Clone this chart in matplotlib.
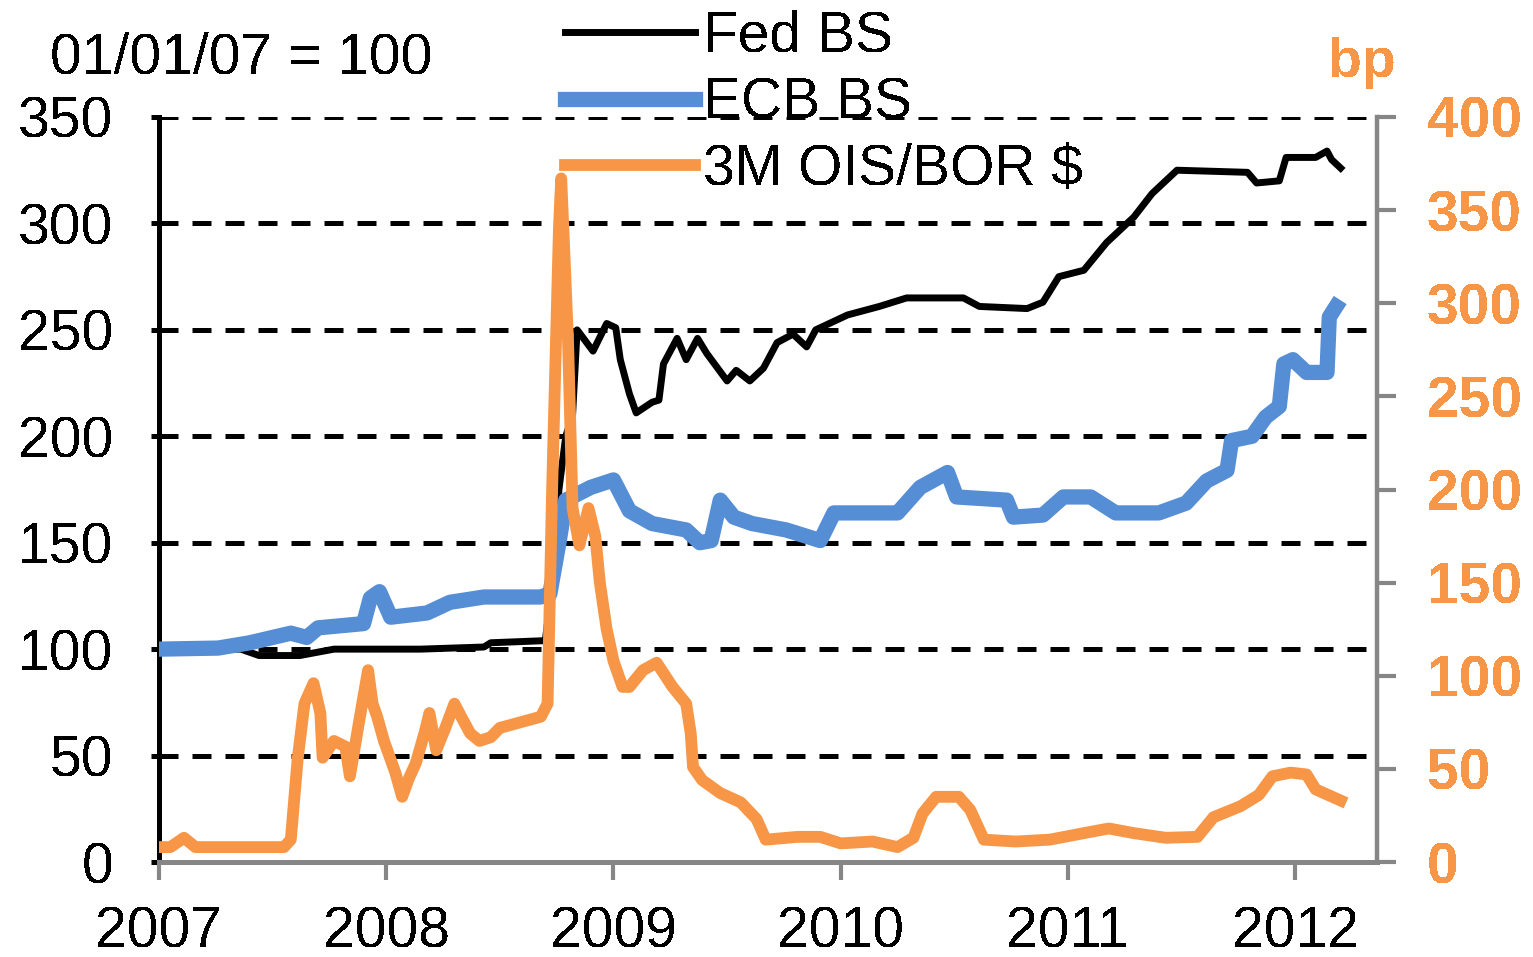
import matplotlib
matplotlib.use("Agg")
import matplotlib.pyplot as plt
from matplotlib.lines import Line2D

plt.rcParams['font.family'] = ['Liberation Sans', 'DejaVu Sans']
plt.rcParams['text.antialiased'] = False

# Fed balance sheet (01/01/07 = 100), left axis
fed_t = [2007.00, 2007.36, 2007.44, 2007.62, 2007.77, 2008.15, 2008.43, 2008.46, 2008.70,
         2008.73, 2008.76, 2008.79, 2008.82, 2008.84, 2008.91, 2008.97, 2009.01, 2009.03,
         2009.07, 2009.10, 2009.17, 2009.20, 2009.22, 2009.28, 2009.32, 2009.37, 2009.41,
         2009.50, 2009.54, 2009.60, 2009.66, 2009.72, 2009.79, 2009.85, 2009.89, 2010.03,
         2010.17, 2010.29, 2010.54, 2010.61, 2010.82, 2010.89, 2010.96, 2011.07, 2011.17,
         2011.29, 2011.37, 2011.48, 2011.79, 2011.83, 2011.93, 2011.96, 2012.09, 2012.14,
         2012.16, 2012.20]
fed_v = [100, 100, 97, 97, 100, 100, 101, 103, 104,
         130, 175, 200, 210, 250, 240, 253, 251, 236,
         220, 211, 216, 217, 234, 246, 236, 246, 239,
         226, 231, 226, 232, 244, 248, 242, 250, 257,
         261, 265, 265, 261, 260, 263, 275, 278, 291,
         303, 314, 325, 324, 319, 320, 331, 331, 334,
         330, 326]

# ECB balance sheet (01/01/07 = 100), left axis
ecb_t = [2007.00, 2007.26, 2007.40, 2007.58, 2007.65, 2007.70, 2007.90, 2007.93, 2007.97,
         2008.02, 2008.18, 2008.28, 2008.43, 2008.68, 2008.72, 2008.76, 2008.79, 2008.90,
         2009.00, 2009.07, 2009.17, 2009.32, 2009.38, 2009.43, 2009.47, 2009.53, 2009.61,
         2009.76, 2009.91, 2009.97, 2010.25, 2010.35, 2010.47, 2010.51, 2010.73, 2010.76,
         2010.89, 2010.98, 2011.10, 2011.21, 2011.40, 2011.52, 2011.61, 2011.70, 2011.72,
         2011.81, 2011.87, 2011.93, 2011.95, 2011.99, 2012.05, 2012.14, 2012.15, 2012.18]
ecb_v = [100, 100.5, 103, 107.5, 105.5, 110, 112, 124, 127,
         115, 117, 122, 124.5, 124.5, 126, 150, 170, 176,
         179.5, 165, 159, 156, 150, 151, 170, 162, 159,
         156, 151, 164, 164, 176, 183, 171.5, 170, 162,
         163, 171.5, 171.5, 164, 164, 168.6, 179, 184, 198,
         200, 209, 214, 234, 236, 230, 230, 256, 261]

# 3M OIS/BOR $ spread (bp), right axis
ois_t = [2007.00, 2007.05, 2007.11, 2007.16, 2007.55, 2007.58, 2007.61, 2007.64, 2007.68,
         2007.71, 2007.72, 2007.77, 2007.82, 2007.84, 2007.88, 2007.92, 2007.94, 2007.96,
         2007.99, 2008.04, 2008.07, 2008.10, 2008.13, 2008.17, 2008.19, 2008.22, 2008.26,
         2008.30, 2008.33, 2008.37, 2008.41, 2008.46, 2008.50, 2008.59, 2008.68, 2008.71,
         2008.73, 2008.76, 2008.77, 2008.80, 2008.82, 2008.85, 2008.89, 2008.92, 2008.94,
         2008.97, 2009.00, 2009.04, 2009.07, 2009.13, 2009.19, 2009.26, 2009.32, 2009.34,
         2009.35, 2009.39, 2009.47, 2009.56, 2009.63, 2009.67, 2009.81, 2009.91, 2010.00,
         2010.14, 2010.25, 2010.32, 2010.36, 2010.42, 2010.52, 2010.57, 2010.63, 2010.77,
         2010.92, 2011.07, 2011.18, 2011.29, 2011.43, 2011.57, 2011.64, 2011.76, 2011.84,
         2011.90, 2011.98, 2012.05, 2012.09, 2012.20]
ois_v = [8, 8, 13, 8, 8, 12, 55, 85, 96,
         80, 56, 65, 62, 46, 75, 103, 85, 78,
         65, 48, 35, 45, 53, 70, 80, 60, 72,
         85, 78, 69, 65, 67, 72, 75, 78, 85,
         200, 340, 367, 280, 190, 170, 190, 175, 150,
         125, 108, 94, 94, 103, 107, 94, 85, 69,
         51, 44, 37, 32, 23, 12, 13.5, 13.5, 10,
         11, 8, 13, 26, 35, 35, 28, 12, 11,
         12, 15.5, 18, 15.5, 13, 13.5, 24, 30, 36,
         46, 48, 47, 39, 33]

year_ticks = [2007, 2008, 2009, 2010, 2011, 2012]
left_ticks = [0, 50, 100, 150, 200, 250, 300, 350]
right_ticks = [0, 50, 100, 150, 200, 250, 300, 350, 400]

orange = '#F79646'
blue = '#558ED5'
grey = '#868686'

fig = plt.figure(figsize=(15.33, 9.57), dpi=100)
ax = fig.add_axes([159 / 1533, 95 / 957, 1218 / 1533, 745 / 957])
ax2 = ax.twinx()

# series
ax.plot(fed_t, fed_v, color='black', lw=5, solid_joinstyle='round', zorder=3)
ax.plot(ecb_t, ecb_v, color=blue, lw=11, solid_joinstyle='round', zorder=4)
ax2.plot(ois_t, ois_v, color=orange, lw=8.5, solid_joinstyle='round', zorder=5)

ax.set_xlim(2007, 2012.36)
ax.set_ylim(0, 350)
ax2.set_ylim(0, 400)

# dashed grid
for v in left_ticks[1:]:
    ax.axhline(v, color='black', lw=3.6, ls=(0, (3.8, 2.8)), zorder=1)

ax.set_xticks(year_ticks)
ax.set_xticklabels([str(y) for y in year_ticks])
ax.set_yticks(left_ticks)
ax2.set_yticks(right_ticks)

for s in ['top', 'right']:
    ax.spines[s].set_visible(False)
for s in ['top', 'left', 'bottom']:
    ax2.spines[s].set_visible(False)
ax.spines['left'].set_linewidth(3.6)
ax.spines['left'].set_color('black')
ax.spines['bottom'].set_linewidth(3.6)
ax.spines['bottom'].set_color(grey)
ax2.spines['right'].set_linewidth(3.2)
ax2.spines['right'].set_color(grey)

ax.tick_params(axis='y', direction='out', length=6, width=3.6, color='black',
               pad=27, labelsize=41)
ax.tick_params(axis='x', direction='out', length=13, width=3, color=grey,
               pad=18, labelsize=41)
ax2.tick_params(axis='y', direction='out', length=14, width=3, color=grey,
                pad=22, labelsize=41, labelcolor=orange)
for lbl in ax2.get_yticklabels():
    lbl.set_fontweight('bold')

fig.text(50 / 1533, 1 - 59 / 957, '01/01/07 = 100', fontsize=41, va='center', ha='left')
fig.text(1362 / 1533, 1 - 77 / 957, 'bp', fontsize=40, fontweight='bold',
         color=orange, ha='center', va='baseline')

handles = [Line2D([], [], color='black', lw=5),
           Line2D([], [], color=blue, lw=11),
           Line2D([], [], color=orange, lw=8.5)]
fig.legend(handles, ['Fed BS', 'ECB BS', '3M OIS/BOR $'], loc='upper left',
           bbox_to_anchor=(565 / 1533, 1 - 10 / 957), frameon=False, fontsize=41,
           handlelength=2.28, handletextpad=0.14, borderpad=0, borderaxespad=0,
           labelspacing=0.22)

fig.savefig('out.png', dpi=100)
